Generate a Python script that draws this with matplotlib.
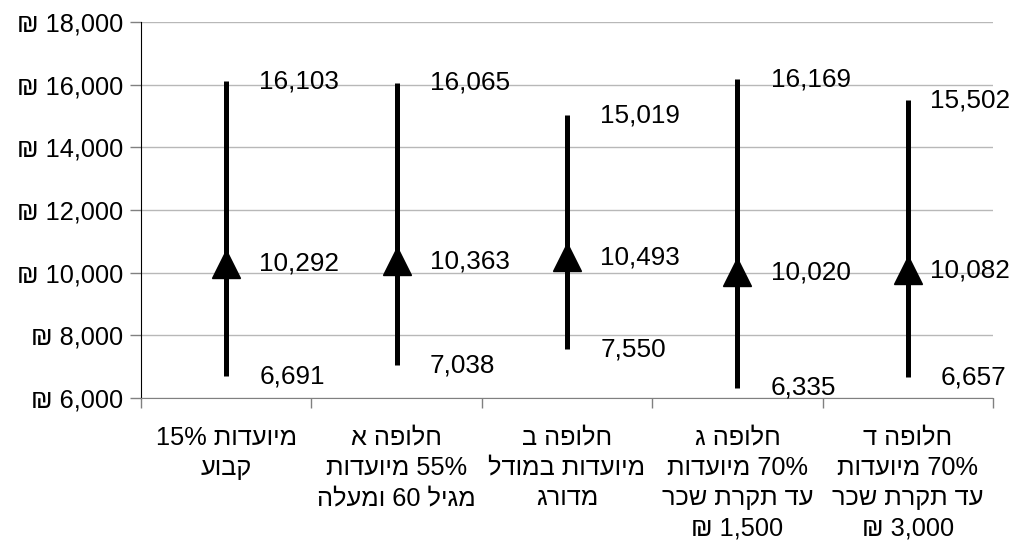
import re
import matplotlib
matplotlib.use('Agg')
import matplotlib.pyplot as plt
from matplotlib.ticker import FuncFormatter

plt.rcParams['font.family'] = ['Liberation Sans', 'DejaVu Sans']


def heb(s):
    # matplotlib has no bidi: flip to visual order, keep number runs LTR
    r = s[::-1]
    return re.sub(r'[0-9,.%]+', lambda m: m.group(0)[::-1], r)


categories = [
    ['מיועדות 15%', 'קבוע'],
    ['חלופה א', '55% מיועדות', 'מגיל 60 ומעלה'],
    ['חלופה ב', 'מיועדות במודל', 'מדורג'],
    ['חלופה ג', '70% מיועדות', 'עד תקרת שכר', '1,500 ₪'],
    ['חלופה ד', '70% מיועדות', 'עד תקרת שכר', '3,000 ₪'],
]
high = [16103, 16065, 15019, 16169, 15502]
mid = [10292, 10363, 10493, 10020, 10082]
low = [6691, 7038, 7550, 6335, 6657]

fig = plt.figure(figsize=(10.19, 5.48), dpi=100)
ax = fig.add_axes([141/1019, 150/548, (993-141)/1019, (398-22)/548])

x = list(range(len(high)))
ax.vlines(x, low, high, color='black', lw=3.6, zorder=3)
ax.plot(x, mid, ls='none', marker='^', ms=19.5, color='black', zorder=4)

for i in x:
    for v in (high[i], mid[i], low[i]):
        if i == len(high) - 1 and v != low[i]:
            # last column: labels pushed back inside the chart area, like Excel
            ax.text(i + 0.6, v, f'{v:,}', fontsize=18.8, va='center', ha='right', clip_on=False)
        else:
            ax.text(i + 0.195, v, f'{v:,}', fontsize=18.8, va='center', ha='left')

ax.set_xlim(-0.5, len(high) - 0.5)
ax.set_ylim(6000, 18000)
ax.set_yticks(range(6000, 18001, 2000))
ax.yaxis.set_major_formatter(FuncFormatter(lambda v, p: f'₪ {int(v):,}'))
ax.tick_params(axis='y', labelsize=18.3, length=8, width=1, color='#808080', pad=5)
ax.grid(axis='y', color='#b8b8b8', lw=1)
ax.set_axisbelow(True)

ax.set_xticks([i - 0.5 for i in range(len(high) + 1)])
ax.set_xticklabels([])
ax.tick_params(axis='x', length=7, width=1, color='#808080')
for i, lines in enumerate(categories):
    ax.text(i, 5120, '\n'.join(heb(l) for l in lines), fontsize=18.3,
            ha='center', va='top', linespacing=1.33)

for s in ('top', 'right'):
    ax.spines[s].set_visible(False)
ax.spines['left'].set_color('black')
ax.spines['bottom'].set_color('#808080')

fig.savefig('out.png', dpi=100)
